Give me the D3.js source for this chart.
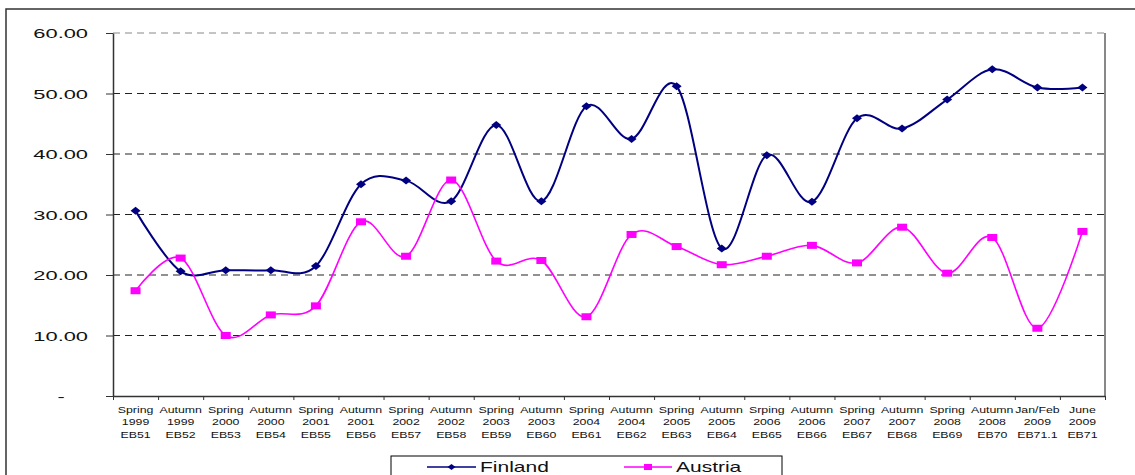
<!DOCTYPE html>
<html><head><meta charset="utf-8">
<script src="https://cdn.jsdelivr.net/npm/d3@7"></script>
<style>html,body{margin:0;padding:0;background:#fff;}svg{display:block;font-family:"Liberation Sans",Arial,sans-serif;}</style>
</head><body>
<svg id="c" width="1135" height="475"></svg>
<script>
const seasons = ["Spring","Autumn","Spring","Autumn","Spring","Autumn","Spring","Autumn","Spring","Autumn","Spring","Autumn","Spring","Autumn","Srping","Autumn","Spring","Autumn","Spring","Autumn","Jan/Feb","June"];
const years = ["1999","1999","2000","2000","2001","2001","2002","2002","2003","2003","2004","2004","2005","2005","2006","2006","2007","2007","2008","2008","2009","2009"];
const waves = ["EB51","EB52","EB53","EB54","EB55","EB56","EB57","EB58","EB59","EB60","EB61","EB62","EB63","EB64","EB65","EB66","EB67","EB68","EB69","EB70","EB71.1","EB71"];
const finland = [30.6,20.6,20.8,20.8,21.5,35.0,35.6,32.2,44.8,32.2,47.9,42.5,51.2,24.4,39.8,32.1,45.9,44.2,49.0,54.0,51.0,51.0];
const austria = [17.4,22.8,10.0,13.4,14.9,28.8,23.1,35.7,22.3,22.4,13.1,26.7,24.7,21.7,23.1,24.9,22.0,27.9,20.3,26.2,11.2,27.2];
const yTicks = [0,10,20,30,40,50,60];
const seriesNames = ["Finland","Austria"];

const SX = 1.5;   // horizontal stretch of the original rendering
const SXY = 1.62; // y labels
const SXX = 1.4;  // x labels
const svg = d3.select("#c");
const L = 113, R = 1105, T = 33, B = 396;

// outer frame
svg.append("rect").attr("x",6).attr("y",9).attr("width",1200).attr("height",600)
  .attr("fill","none").attr("stroke","#333").attr("stroke-width",1.5);

const idx = d3.range(finland.length);
const x = d3.scaleBand().domain(idx).range([L,R]).padding(0);
const xb = d3.scaleLinear().domain([0,finland.length]).range([L,R]);
const y = d3.scaleLinear().domain([0,60]).range([B,T]);
const cx = i => x(i) + x.bandwidth()/2;

// gridlines
svg.append("g").selectAll("line").data(yTicks.filter(d=>d>0)).join("line")
  .attr("x1",L).attr("x2",R).attr("y1",d=>y(d)).attr("y2",d=>y(d))
  .attr("stroke",d=>d===60?"#888":"#222").attr("stroke-width",1)
  .attr("stroke-dasharray","7,5");
// right border
svg.append("line").attr("x1",R).attr("x2",R).attr("y1",T).attr("y2",B)
  .attr("stroke","#888").attr("stroke-width",2);

// y axis
const ya = svg.append("g").attr("transform",`translate(${L},0)`)
  .call(d3.axisLeft(y).tickValues(yTicks).tickSize(7).tickSizeOuter(0)
    .tickFormat(d => d===0 ? "-" : d.toFixed(2)));
ya.select(".domain").attr("stroke","#333").attr("stroke-width",1.5);
ya.selectAll(".tick line").attr("stroke","#333");
ya.selectAll(".tick text")
  .attr("font-size",13.5).attr("font-family","Liberation Sans, Arial, sans-serif").attr("fill","#111")
  .attr("dy",null).attr("y",4.8)
  .attr("x",d => d===0 ? -52/SXY : -25/SXY)
  .attr("text-anchor",d => d===0 ? "middle" : "end")
  .attr("transform",`scale(${SXY},1)`);

// x axis (ticks at category boundaries)
const xa = svg.append("g").attr("transform",`translate(0,${B})`)
  .call(d3.axisBottom(xb).tickValues(d3.range(0,finland.length+1)).tickSize(4).tickSizeOuter(0).tickFormat(""));
xa.select(".domain").attr("stroke","#333").attr("stroke-width",1.5);
xa.selectAll(".tick line").attr("stroke","#333");

// x labels
const lab = svg.append("g").attr("font-size",8.8).attr("fill","#111").attr("text-anchor","middle");
[[seasons,413],[years,425.3],[waves,437.6]].forEach(([arr,by]) => {
  lab.selectAll(null).data(arr).join("text")
    .attr("transform",(d,i)=>`translate(${cx(i)},${by}) scale(${SXX},1)`)
    .text(d=>d);
});

// lines
const line = d3.line().x((d,i)=>cx(i)).y(d=>y(d)).curve(d3.curveCardinal.tension(0));
svg.append("path").datum(finland).attr("d",line).attr("fill","none")
  .attr("stroke","#000080").attr("stroke-width",2);
svg.append("path").datum(austria).attr("d",line).attr("fill","none")
  .attr("stroke","#FF00FF").attr("stroke-width",1.6);

const diamond = (w,h) => `M0,${-h/2}L${w/2},0L0,${h/2}L${-w/2},0Z`;
svg.append("g").selectAll("path").data(finland).join("path")
  .attr("transform",(d,i)=>`translate(${cx(i)},${y(d)})`)
  .attr("d",diamond(10,8)).attr("fill","#000080");
svg.append("g").selectAll("rect").data(austria).join("rect")
  .attr("x",(d,i)=>cx(i)-5).attr("y",d=>y(d)-3.5).attr("width",10).attr("height",7)
  .attr("fill","#FF00FF");

// legend
const lg = svg.append("g");
lg.append("rect").attr("x",391).attr("y",456).attr("width",391).attr("height",40)
  .attr("fill","#fff").attr("stroke","#000").attr("stroke-width",1);
const items = [
  {name:seriesNames[0], color:"#000080", x0:427, x1:476, mk:"d", tx:480},
  {name:seriesNames[1], color:"#FF00FF", x0:624, x1:672, mk:"s", tx:676}
];
const ly = 467;
items.forEach(it => {
  lg.append("line").attr("x1",it.x0).attr("x2",it.x1).attr("y1",ly).attr("y2",ly)
    .attr("stroke",it.color).attr("stroke-width",1.5);
  const mx = (it.x0+it.x1)/2;
  if (it.mk==="d") lg.append("path").attr("transform",`translate(${mx},${ly})`).attr("d",diamond(8,6)).attr("fill",it.color);
  else lg.append("rect").attr("x",mx-4).attr("y",ly-3).attr("width",8).attr("height",6).attr("fill",it.color);
  lg.append("text").attr("transform",`translate(${it.tx},${ly+4.8}) scale(${SX},1)`)
    .attr("font-size",14).attr("fill","#111").text(it.name);
});
</script>
</body></html>
